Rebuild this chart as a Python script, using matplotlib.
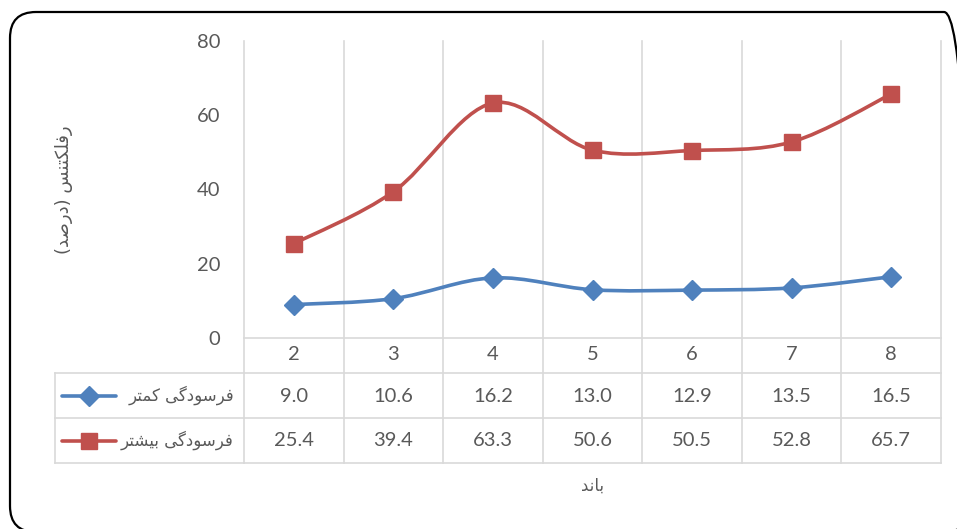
import matplotlib.pyplot as plt
import matplotlib.transforms as mtransforms
from matplotlib.path import Path
from matplotlib.patches import PathPatch, FancyBboxPatch
from matplotlib.lines import Line2D

bands = [2, 3, 4, 5, 6, 7, 8]
less_worn = [9.0, 10.6, 16.2, 13.0, 12.9, 13.5, 16.5]
more_worn = [25.4, 39.4, 63.3, 50.6, 50.5, 52.8, 65.7]
series_names = ['فرسودگی کمتر', 'فرسودگی بیشتر']
y_ticks = [0, 20, 40, 60, 80]
x_title = 'باند'
y_title = 'رفلکتنس (درصد)'

BLUE = '#4F81BD'
RED = '#C0504D'
GRID = '#D9D9D9'
TXT = '#595959'
W, H = 957, 529
NUM_FS = 14.5

# matplotlib has no arabic shaping, so pick the joined letter forms by hand
FORMS = {
    'ا': (0xFE8D, 0xFE8E, None, None), 'ب': (0xFE8F, 0xFE90, 0xFE91, 0xFE92),
    'ت': (0xFE95, 0xFE96, 0xFE97, 0xFE98), 'د': (0xFEA9, 0xFEAA, None, None),
    'ر': (0xFEAD, 0xFEAE, None, None), 'س': (0xFEB1, 0xFEB2, 0xFEB3, 0xFEB4),
    'ش': (0xFEB5, 0xFEB6, 0xFEB7, 0xFEB8), 'ص': (0xFEB9, 0xFEBA, 0xFEBB, 0xFEBC),
    'ف': (0xFED1, 0xFED2, 0xFED3, 0xFED4), 'ل': (0xFEDD, 0xFEDE, 0xFEDF, 0xFEE0),
    'م': (0xFEE1, 0xFEE2, 0xFEE3, 0xFEE4), 'ن': (0xFEE5, 0xFEE6, 0xFEE7, 0xFEE8),
    'و': (0xFEED, 0xFEEE, None, None), 'ک': (0xFB8E, 0xFB8F, 0xFB90, 0xFB91),
    'گ': (0xFB92, 0xFB93, 0xFB94, 0xFB95), 'ی': (0xFBFC, 0xFBFD, 0xFBFE, 0xFBFF),
}


def shape(s):
    out = []
    for i, ch in enumerate(s):
        if ch not in FORMS:
            out.append({'(': ')', ')': '('}.get(ch, ch))
            continue
        f = FORMS[ch]
        prev = s[i - 1] if i > 0 else ''
        nxt = s[i + 1] if i + 1 < len(s) else ''
        jp = prev in FORMS and FORMS[prev][2] is not None
        jn = f[2] is not None and nxt in FORMS
        code = f[3] if jp and jn else f[1] if jp else f[2] if jn else f[0]
        out.append(chr(code))
    return ''.join(reversed(out))


def smooth_path(xs, ys):
    pts = list(zip(xs, ys))
    n = len(pts)
    verts, codes = [pts[0]], [Path.MOVETO]
    for i in range(n - 1):
        p0, p1 = pts[max(i - 1, 0)], pts[i]
        p2, p3 = pts[i + 1], pts[min(i + 2, n - 1)]
        c1 = (p1[0] + (p2[0] - p0[0]) / 6, p1[1] + (p2[1] - p0[1]) / 6)
        c2 = (p2[0] - (p3[0] - p1[0]) / 6, p2[1] - (p3[1] - p1[1]) / 6)
        verts += [c1, c2, p2]
        codes += [Path.CURVE4] * 3
    return Path(verts, codes)


fig = plt.figure(figsize=(W / 100, H / 100), dpi=100)
ax = fig.add_axes([244 / W, (H - 338) / H, (941 - 244) / W, (338 - 41) / H])
ax.set_xlim(bands[0] - 0.5, bands[-1] + 0.5)
ax.set_ylim(y_ticks[0], y_ticks[-1])
for sp in ax.spines.values():
    sp.set_visible(False)
ax.set_xticks([])
ax.set_yticks(y_ticks)
ax.tick_params(axis='y', length=0, pad=17, labelsize=NUM_FS, labelcolor=TXT)
for lab in ax.get_yticklabels():
    lab.set_family('Lato')

# pixel transform with origin top-left, and category-x / pixel-y blend
px = mtransforms.Affine2D().scale(1 / W, -1 / H).translate(0, 1) + fig.transFigure
bx = mtransforms.blended_transform_factory(ax.transData, px)

x0, x1 = bands[0] - 0.5, bands[-1] + 0.5
for k in range(len(bands) + 1):
    b = x0 + k
    ax.add_line(Line2D([b, b], [41, 463], transform=bx, color=GRID, lw=1.2, clip_on=False, zorder=1))
ax.add_line(Line2D([x0, x1], [338, 338], transform=bx, color=GRID, lw=1.2, clip_on=False, zorder=1))
for yy in [373, 418, 463]:
    fig.add_artist(Line2D([55, 244], [yy, yy], transform=px, color=GRID, lw=1.2))
    ax.add_line(Line2D([x0, x1], [yy, yy], transform=bx, color=GRID, lw=1.2, clip_on=False, zorder=1))
fig.add_artist(Line2D([55, 55], [373, 463], transform=px, color=GRID, lw=1.2))

# smoothed series lines with markers
for vals, col, mk, ms in [(less_worn, BLUE, 'D', 10), (more_worn, RED, 's', 11)]:
    ax.add_patch(PathPatch(smooth_path(bands, vals), fill=False, edgecolor=col, lw=2.6,
                           capstyle='round', zorder=3))
    ax.plot(bands, vals, ls='none', marker=mk, ms=ms, color=col, zorder=4, clip_on=False)

# data table
for b in bands:
    ax.text(b, 355, str(b), transform=bx, ha='center', va='center', fontsize=NUM_FS,
            color=TXT, family='Lato')
for row_y, vals in [(396, less_worn), (441, more_worn)]:
    for b, v in zip(bands, vals):
        ax.text(b, row_y, f'{v:.1f}', transform=bx, ha='center', va='center',
                fontsize=NUM_FS, color=TXT, family='Lato')

for row_y, name, col, mk, ms in [(396, series_names[0], BLUE, 'D', 10),
                                 (441, series_names[1], RED, 's', 11)]:
    fig.add_artist(Line2D([62, 116], [row_y, row_y], transform=px, color=col, lw=2.6,
                          solid_capstyle='round'))
    fig.add_artist(Line2D([89], [row_y], transform=px, marker=mk, ms=ms, color=col))
    fig.text(234 / W, 1 - (row_y - 1) / H, shape(name), ha='right', va='center',
             fontsize=12, color=TXT, family=['DejaVu Sans'])

fig.text(593 / W, 1 - 486 / H, shape(x_title), ha='center', va='center',
         fontsize=12, color=TXT, family=['DejaVu Sans'])
fig.text(64 / W, 1 - 190 / H, shape(y_title), ha='center', va='center', rotation=90,
         fontsize=13, color=TXT, family=['DejaVu Sans'])

# rounded outer frame
fig.add_artist(FancyBboxPatch((10, H - 532), 960, 520, boxstyle='round,pad=0,rounding_size=26',
                              transform=mtransforms.IdentityTransform(), fill=False,
                              edgecolor='black', lw=1.6))

fig.savefig('out.png', dpi=100)
